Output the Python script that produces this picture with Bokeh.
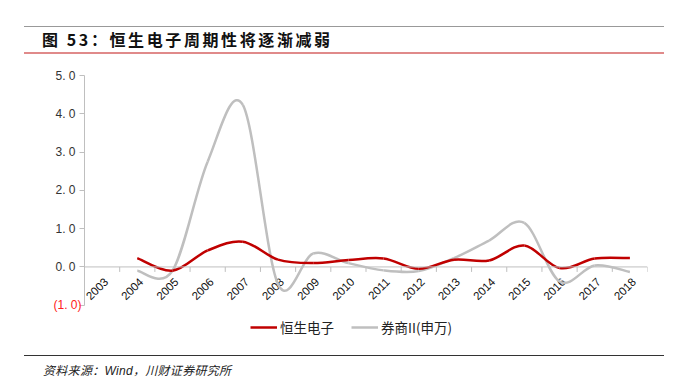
import math
from bokeh.plotting import figure
from bokeh.models import (Range1d, LinearAxis, FixedTicker, Legend, LegendItem,
                          Div, ColumnDataSource, Span)
from bokeh.core.properties import value
from bokeh.layouts import column
from bokeh.embed import file_html
from bokeh.resources import INLINE

# ---------------- data ----------------
years = ["2003", "2004", "2005", "2006", "2007", "2008", "2009", "2010",
         "2011", "2012", "2013", "2014", "2015", "2016", "2017", "2018"]
hs_name = "恒生电子"
hs_values = [None, 0.23, -0.10, 0.43, 0.66, 0.19, 0.10, 0.18,
             0.22, -0.05, 0.19, 0.17, 0.56, -0.03, 0.22, 0.23]
sec_name = "券商II(申万)"
sec_values = [None, -0.10, -0.10, 2.75, 4.23, -0.45, 0.35, 0.10,
              -0.09, -0.11, 0.23, 0.69, 1.15, -0.38, 0.04, -0.13]
y_ticks = [-1, 0, 1, 2, 3, 4, 5]
y_tick_labels = ["", "0. 0", "1. 0", "2. 0", "3. 0", "4. 0", "5. 0"]
neg_tick = -1
neg_tick_label = "(1. 0)"
title_text = "图 53：恒生电子周期性将逐渐减弱"
source_text = "资料来源：<span style='font-family:Liberation Sans'>Wind</span>，川财证券研究所"

RED = "#C00000"
GRAY = "#BFBFBF"
AXIS = "#BFBFBF"

n = len(years)
xs = [i + 0.5 for i in range(n)]
bounds = list(range(n + 1))
y_min, y_max = -1, 5
legend_room = 1  # extra range below the axis minimum that holds the legend


def smooth_segments(xv, yv):
    pts = [(a, b) for a, b in zip(xv, yv) if b is not None]
    m = len(pts)
    d = dict(x0=[], y0=[], x1=[], y1=[], cx0=[], cy0=[], cx1=[], cy1=[])
    for i in range(m - 1):
        p0 = pts[max(i - 1, 0)]
        p1 = pts[i]
        p2 = pts[i + 1]
        p3 = pts[min(i + 2, m - 1)]
        d["x0"].append(p1[0]); d["y0"].append(p1[1])
        d["x1"].append(p2[0]); d["y1"].append(p2[1])
        d["cx0"].append(p1[0] + (p2[0] - p0[0]) / 6.0)
        d["cy0"].append(p1[1] + (p2[1] - p0[1]) / 6.0)
        d["cx1"].append(p2[0] - (p3[0] - p1[0]) / 6.0)
        d["cy1"].append(p2[1] - (p3[1] - p1[1]) / 6.0)
    return ColumnDataSource(d)


# ---------------- figure ----------------
p = figure(width=664, height=291, x_range=Range1d(0, n),
           y_range=Range1d(y_min - legend_room, y_max),
           output_backend="svg", toolbar_location=None,
           x_axis_location=None, y_axis_location=None,
           min_border_left=84, min_border_right=17, min_border_top=21,
           min_border_bottom=2)
p.grid.visible = False
p.outline_line_color = None
p.background_fill_color = "white"
p.border_fill_color = "white"

ya = LinearAxis(ticker=FixedTicker(ticks=y_ticks), bounds=(y_min, y_max),
                major_label_overrides={t: l for t, l in zip(y_ticks, y_tick_labels)},
                axis_line_color=AXIS, major_tick_line_color=AXIS,
                major_tick_out=5, major_tick_in=0, minor_tick_line_color=None,
                major_label_text_font="Liberation Sans",
                major_label_text_font_size="12px",
                major_label_text_color="#333333",
                major_label_standoff=4)
p.add_layout(ya, "left")
# red label for the negative tick: a second axis just outside the first,
# its label pulled back towards the frame
ya_neg = LinearAxis(ticker=FixedTicker(ticks=[neg_tick]), bounds=(y_min, y_max),
                    major_label_overrides={neg_tick: neg_tick_label},
                    axis_line_color=None, major_tick_line_color=None,
                    minor_tick_line_color=None, major_tick_out=0, major_tick_in=0,
                    major_label_text_font="Liberation Sans",
                    major_label_text_font_size="12px",
                    major_label_text_color="#FF2020",
                    major_label_standoff=-29)
p.add_layout(ya_neg, "left")

# x axis at y = 0 with ticks between categories
p.add_layout(Span(location=0, dimension="width", line_color=AXIS, line_width=1))
p.ray(x=bounds, y=[0] * len(bounds), length=5, length_units="screen",
      angle=-math.pi / 2, line_color=AXIS, line_width=1)
p.text(x=xs, y=[0] * n, text=years, angle=math.pi / 4, x_offset=4, y_offset=13,
       text_align="right", text_baseline="middle",
       text_font=value("Liberation Sans"), text_font_size="11.5px",
       text_color="#111111")

r_sec = p.bezier(x0="x0", y0="y0", x1="x1", y1="y1", cx0="cx0", cy0="cy0",
                 cx1="cx1", cy1="cy1", source=smooth_segments(xs, sec_values),
                 line_color=GRAY, line_width=2.5)
r_hs = p.bezier(x0="x0", y0="y0", x1="x1", y1="y1", cx0="cx0", cy0="cy0",
                cx1="cx1", cy1="cy1", source=smooth_segments(xs, hs_values),
                line_color=RED, line_width=2.5)

legend = Legend(items=[LegendItem(label=hs_name, renderers=[r_hs]),
                       LegendItem(label=sec_name, renderers=[r_sec])],
                orientation="horizontal", location=(166, 6),
                label_text_font="Noto Sans CJK SC",
                label_text_font_size="13.5px", label_text_color="#222222",
                glyph_width=27, glyph_height=12, label_standoff=3, spacing=17,
                border_line_color=None, background_fill_alpha=0,
                padding=0, margin=0)
p.add_layout(legend)

title_div = Div(text=title_text, width=640, height=28, margin=(26, 0, 0, 24),
                styles={"border-top": "1px solid #999999",
                        "border-bottom": "2px solid #E08A8A",
                        "box-sizing": "border-box",
                        "padding-left": "18px",
                        "font-family": "Noto Sans CJK SC",
                        "font-weight": "bold",
                        "font-size": "16px",
                        "letter-spacing": "2.6px",
                        "line-height": "25px",
                        "color": "#111111"})
src_div = Div(text=source_text, width=640, height=26, margin=(10, 0, 0, 24),
              styles={"border-top": "1px solid #333333",
                      "box-sizing": "border-box",
                      "padding-left": "19px",
                      "font-family": "Noto Sans CJK SC",
                      "font-style": "italic",
                      "font-size": "12px",
                      "letter-spacing": "0.3px",
                      "line-height": "28px",
                      "color": "#222222"})

layout = column(title_div, p, src_div, spacing=0)

open("out.html", "w").write(file_html(layout, INLINE))
